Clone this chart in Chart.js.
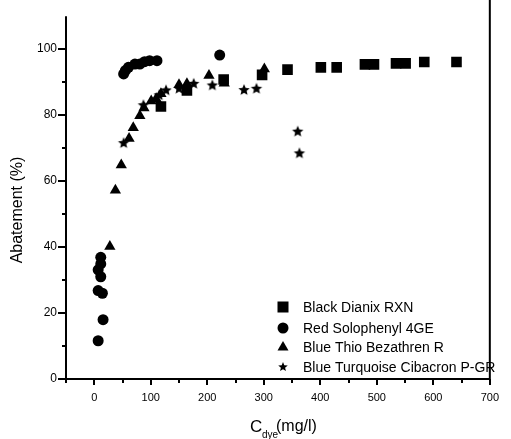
<!DOCTYPE html>
<html>
<head>
<meta charset="utf-8">
<script src="https://cdn.jsdelivr.net/npm/chart.js@4/dist/chart.umd.min.js"></script>
<style>
  html, body { margin: 0; padding: 0; background: #fff; }
  #wrap { width: 511px; height: 439px; }
</style>
</head>
<body>
<div id="wrap"><canvas id="chart" width="511" height="439"></canvas></div>
<script>
// values
const blackX = [118, 164, 229, 297, 342, 401, 429, 479, 495, 534, 551, 584, 641]
const blackY = [82.6, 87.5, 90.8, 92.2, 93.8, 94.5, 94.5, 95.4, 95.4, 95.7, 95.7, 96.1, 96.1]

const redX = [6.9, 15.6, 14.4, 6.9, 11.5, 6.9, 11.5, 11.5, 52, 55, 60.5, 72, 80.7, 89, 98, 111, 222]
const redY = [11.6, 18, 26, 26.8, 31, 33.1, 34.9, 36.9, 92.5, 93.5, 94.5, 95.5, 95.5, 96.2, 96.5, 96.5, 98.2]

const thioX = [27.6, 37.4, 47.8, 61.6, 69, 80.7, 88, 100.8, 109.5, 118, 150, 164, 203, 230, 301]
const thioY = [40.2, 57.2, 64.9, 72.9, 76.2, 79.8, 82.2, 84.3, 85, 86.5, 89.2, 89.5, 92, 89.7, 94]

const turqX = [52, 87, 115, 127, 150, 176, 209, 265, 287, 360, 363]
const turqY = [71.5, 83, 86, 87.5, 88, 89.5, 89, 87.6, 88, 75, 68.4]

const seriesNames = ['Black Dianix RXN', 'Red Solophenyl 4GE', 'Blue Thio Bezathren R', 'Blue Turquoise Cibacron P-GR']
const xMajorTicks = [0, 100, 200, 300, 400, 500, 600, 700]
const yMajorTicks = [0, 20, 40, 60, 80, 100]

const FONT = '"Liberation Sans", Arial, Helvetica, sans-serif'

function pairs(xs, ys) {
  return xs.map((x, i) => ({x: x, y: ys[i]}))
}

// filled five point star, chart.js' own 'star' is only strokes
function starPath(ctx, cx, cy, ro, ri) {
  ctx.beginPath()
  for (let i = 0; i < 10; i++) {
    let r = i % 2 === 0 ? ro : ri
    let a = -Math.PI / 2 + i * Math.PI / 5
    let px = cx + r * Math.cos(a)
    let py = cy + r * Math.sin(a)
    if (i === 0) ctx.moveTo(px, py)
    else ctx.lineTo(px, py)
  }
  ctx.closePath()
}

function makeStar(ro) {
  let c = document.createElement('canvas')
  let s = Math.ceil(ro * 2 + 2)
  c.width = s
  c.height = s
  let g = c.getContext('2d')
  g.fillStyle = '#000'
  starPath(g, s / 2, s / 2, ro, ro * 0.45)
  g.fill()
  return c
}

const starImg = makeStar(6)

// axes lines, tick marks, titles and the legend drawn by hand
const framePlugin = {
  id: 'frame',
  afterDraw(chart) {
    let ctx = chart.ctx
    let a = chart.chartArea
    let xs = chart.scales.x
    let ys = chart.scales.y
    ctx.save()
    ctx.strokeStyle = '#000'
    ctx.lineWidth = 2
    ctx.lineCap = 'butt'

    ctx.beginPath()
    ctx.moveTo(a.left, a.top)
    ctx.lineTo(a.left, a.bottom + 1)
    ctx.moveTo(a.left - 1, a.bottom)
    ctx.lineTo(a.right + 1, a.bottom)
    ctx.moveTo(a.right, 0)
    ctx.lineTo(a.right, a.bottom + 1)
    ctx.stroke()

    // x ticks, major every 100, minor in between
    ctx.beginPath()
    for (let v = -50; v <= 700; v += 50) {
      let px = Math.round(xs.getPixelForValue(v))
      let len = v % 100 === 0 ? 6 : 4
      ctx.moveTo(px, a.bottom)
      ctx.lineTo(px, a.bottom + len)
    }
    // y ticks, major every 20, minor in between
    for (let v = 0; v <= 100; v += 10) {
      let py = Math.round(ys.getPixelForValue(v))
      let len = v % 20 === 0 ? 8 : 4
      ctx.moveTo(a.left, py)
      ctx.lineTo(a.left - len, py)
    }
    ctx.stroke()

    // y title
    ctx.fillStyle = '#000'
    ctx.save()
    ctx.translate(18, 210)
    ctx.rotate(-Math.PI / 2)
    ctx.font = '16px ' + FONT
    ctx.textAlign = 'center'
    ctx.textBaseline = 'middle'
    ctx.fillText('Abatement (%)', 0, 0)
    ctx.restore()

    // x title with subscript
    ctx.textAlign = 'left'
    ctx.textBaseline = 'alphabetic'
    ctx.font = '17px ' + FONT
    ctx.fillText('C', 250, 432)
    ctx.font = '10px ' + FONT
    ctx.fillText('dye', 262, 438)
    ctx.font = '16px ' + FONT
    ctx.fillText('(mg/l)', 276, 431)

    // legend
    let rows = [307, 328, 347, 367]
    let mx = 283
    ctx.font = '14px ' + FONT
    ctx.textBaseline = 'middle'
    rows.forEach((ry, i) => {
      ctx.fillStyle = '#000'
      if (i === 0) {
        ctx.fillRect(mx - 5.5, ry - 5.5, 11, 11)
      } else if (i === 1) {
        ctx.beginPath()
        ctx.arc(mx, ry, 5.5, 0, Math.PI * 2)
        ctx.fill()
      } else if (i === 2) {
        ctx.beginPath()
        ctx.moveTo(mx, ry - 6)
        ctx.lineTo(mx + 5.5, ry + 3.5)
        ctx.lineTo(mx - 5.5, ry + 3.5)
        ctx.closePath()
        ctx.fill()
      } else {
        starPath(ctx, mx, ry, 5, 2.2)
        ctx.fill()
      }
      ctx.fillText(seriesNames[i], 303, ry + 1)
    })
    ctx.restore()
  }
}

const datasets = [
  {label: seriesNames[0], data: pairs(blackX, blackY), pointStyle: 'rect', pointRadius: 7.5},
  {label: seriesNames[1], data: pairs(redX, redY), pointStyle: 'circle', pointRadius: 5.5},
  {label: seriesNames[2], data: pairs(thioX, thioY), pointStyle: 'triangle', pointRadius: 6.5},
  {label: seriesNames[3], data: pairs(turqX, turqY), pointStyle: starImg, pointRadius: 6}
].map(d => Object.assign(d, {
  backgroundColor: '#000',
  borderColor: '#000',
  borderWidth: 0,
  pointHoverRadius: d.pointRadius
}))

new Chart(document.getElementById('chart'), {
  type: 'scatter',
  data: {datasets: datasets},
  options: {
    responsive: false,
    animation: false,
    events: [],
    layout: {padding: {left: 0, right: 9, top: 13, bottom: 0}},
    plugins: {legend: {display: false}, tooltip: {enabled: false}},
    scales: {
      x: {
        type: 'linear',
        min: -50,
        max: 700,
        afterFit: s => { s.height = 60 },
        grid: {display: false, drawTicks: false},
        border: {display: false},
        ticks: {
          stepSize: 50,
          padding: 12,
          color: '#000',
          font: {family: FONT, size: 11},
          maxRotation: 0,
          autoSkip: false,
          callback: v => xMajorTicks.includes(v) ? String(v) : ''
        }
      },
      y: {
        type: 'linear',
        min: 0,
        max: 110,
        afterFit: s => { s.width = 66 },
        grid: {display: false, drawTicks: false},
        border: {display: false},
        ticks: {
          stepSize: 10,
          padding: 9,
          color: '#000',
          font: {family: FONT, size: 12},
          autoSkip: false,
          callback: v => yMajorTicks.includes(v) ? String(v) : ''
        }
      }
    }
  },
  plugins: [framePlugin]
})
</script>
</body>
</html>
